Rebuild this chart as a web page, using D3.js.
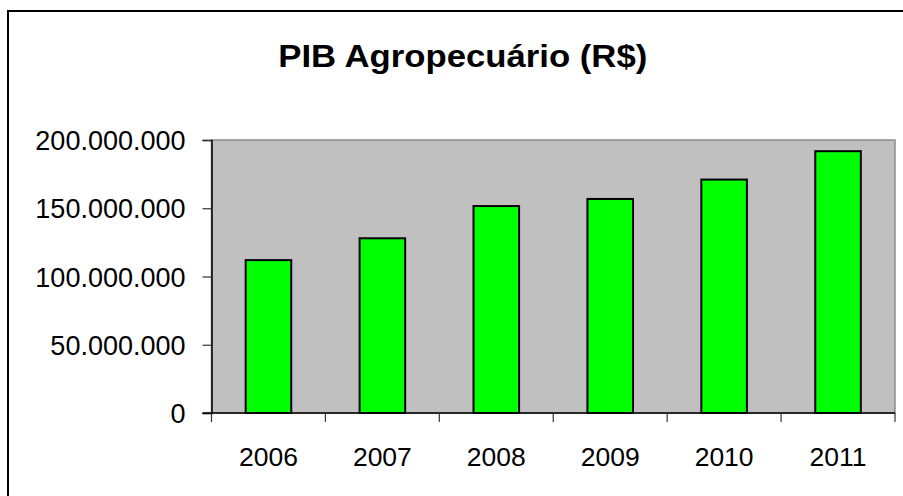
<!DOCTYPE html>
<html>
<head>
<meta charset="utf-8">
<script src="https://cdn.jsdelivr.net/npm/d3@7"></script>
<style>
html,body{margin:0;padding:0;background:#fff;}
svg{display:block;}
text{font-family:"Liberation Sans",Arial,sans-serif;fill:#000;}
</style>
</head>
<body>
<svg id="chart" width="903" height="496"></svg>
<script>
const title = "PIB Agropecuário (R$)";
const years = ["2006","2007","2008","2009","2010","2011"];
const values = [112000000, 128000000, 151600000, 156800000, 171000000, 191800000];
const yTicks = [0, 50000000, 100000000, 150000000, 200000000];

const svg = d3.select("#chart");
const W = 903, H = 496;
const plot = {x0: 211.5, x1: 895, y0: 140, y1: 413};

const fmt = d3.formatLocale({decimal: ",", thousands: ".", grouping: [3], currency: ["R$", ""]}).format(",");

// outer chart border
svg.append("rect").attr("x", 8).attr("y", 11).attr("width", W + 10).attr("height", H + 10)
  .attr("fill", "#fff").attr("stroke", "#000").attr("stroke-width", 2);

// title
svg.append("text").attr("x", 462.8).attr("y", 67.3).attr("text-anchor", "middle")
  .attr("font-size", 32).attr("font-weight", "bold")
  .attr("textLength", 369).attr("lengthAdjust", "spacingAndGlyphs")
  .text(title);

const x = d3.scaleBand().domain(years).range([plot.x0, plot.x1]).paddingInner(0.6).paddingOuter(0.3);
const y = d3.scaleLinear().domain([0, 200000000]).range([plot.y1, plot.y0]);

// plot area
svg.append("rect").attr("x", plot.x0).attr("y", plot.y0)
  .attr("width", plot.x1 - plot.x0).attr("height", plot.y1 - plot.y0)
  .attr("fill", "#c0c0c0").attr("stroke", "#8c8c8c").attr("stroke-width", 1.5);

// bars
svg.append("g").selectAll("rect").data(values).join("rect")
  .attr("x", (d, i) => x(years[i]))
  .attr("y", d => y(d))
  .attr("width", x.bandwidth())
  .attr("height", d => y(0) - y(d))
  .attr("fill", "#00ff00").attr("stroke", "#000").attr("stroke-width", 2);

// y axis
const yAxis = svg.append("g").attr("transform", `translate(${plot.x0},0)`)
  .call(d3.axisLeft(y).tickValues(yTicks).tickFormat(fmt).tickSize(9).tickPadding(17));
yAxis.select(".domain").attr("stroke", "#000").attr("stroke-width", 1.5);
yAxis.selectAll(".tick line").attr("stroke", "#333").attr("stroke-width", 1.2);
yAxis.selectAll(".tick text").attr("font-size", 27).attr("font-family", "Liberation Sans, Arial, sans-serif")
  .attr("dy", "0.36em").attr("fill", "#000");

// x axis
const bounds = years.map(d => x(d) - x.step() * x.paddingInner() / 2);
bounds.push(plot.x1);
const xg = svg.append("g");
xg.append("line").attr("x1", plot.x0 - 9).attr("x2", plot.x1).attr("y1", plot.y1).attr("y2", plot.y1)
  .attr("stroke", "#000").attr("stroke-width", 1.5);
xg.selectAll("line.tk").data(bounds).join("line").attr("class", "tk")
  .attr("x1", d => d).attr("x2", d => d).attr("y1", plot.y1).attr("y2", plot.y1 + 9)
  .attr("stroke", "#333").attr("stroke-width", 1.2);
xg.selectAll("text").data(years).join("text")
  .attr("x", d => x(d) + x.bandwidth() / 2).attr("y", 465.7)
  .attr("text-anchor", "middle").attr("font-size", 26.5)
  .text(d => d);
</script>
</body>
</html>
